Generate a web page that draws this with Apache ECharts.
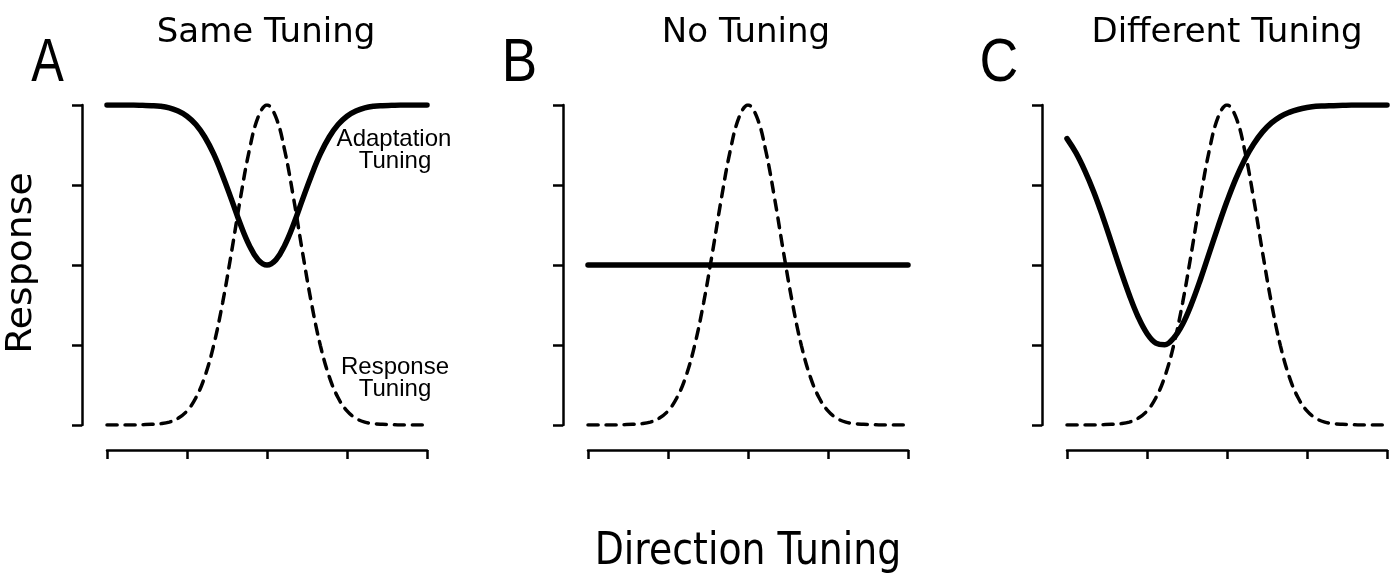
<!DOCTYPE html>
<html>
<head>
<meta charset="utf-8">
<script src="https://cdn.jsdelivr.net/npm/echarts@6/dist/echarts.min.js"></script>
<style>
html,body{margin:0;padding:0;background:#fff;}
#chart{width:1396px;height:582px;}
</style>
</head>
<body>
<div id="chart"></div>
<script>
// ---- data (direction in degrees, response normalised 0..1) ----
const directions = [-180,-170,-160,-150,-140,-130,-120,-110,-100,-90,-80,-70,-60,-50,-40,-30,-20,-10,0,
  10,20,30,40,50,60,70,80,90,100,110,120,130,140,150,160,170,180];

const responseTuning = [0,0,0,0,0.001,0.002,0.004,0.009,0.021,0.044,0.085,0.151,0.249,0.381,0.539,0.707,0.857,0.962,1,
  0.962,0.857,0.707,0.539,0.381,0.249,0.151,0.085,0.044,0.021,0.009,0.004,0.002,0.001,0,0,0,0];

const adaptSame = [1,1,1,1,0.999,0.998,0.996,0.991,0.981,0.965,0.939,0.900,0.847,0.780,0.705,0.628,0.562,0.516,0.5,
  0.516,0.562,0.628,0.705,0.780,0.847,0.900,0.939,0.965,0.981,0.991,0.996,0.998,0.999,1,1,1,1];

const adaptNone = [0.5,0.5,0.5,0.5,0.5,0.5,0.5,0.5,0.5,0.5,0.5,0.5,0.5,0.5,0.5,0.5,0.5,0.5,0.5,
  0.5,0.5,0.5,0.5,0.5,0.5,0.5,0.5,0.5,0.5,0.5,0.5,0.5,0.5,0.5,0.5,0.5,0.5];

const adaptDifferent = [0.895,0.851,0.795,0.729,0.653,0.570,0.486,0.407,0.338,0.286,0.256,0.251,0.272,0.315,0.378,0.454,0.537,0.620,0.699,
  0.770,0.830,0.878,0.916,0.944,0.964,0.977,0.986,0.992,0.996,0.997,0.998,0.999,1,1,1,1,1];

const panelTitles = ['Same Tuning', 'No Tuning', 'Different Tuning'];
const panelLetters = ['A', 'B', 'C'];
const xTicks = [-180, -90, 0, 90, 180];
const yTicks = [0, 0.25, 0.5, 0.75, 1];
const yLabel = 'Response';
const xLabel = 'Direction Tuning';
const adaptLabel = ['Adaptation', 'Tuning'];
const respLabel = ['Response', 'Tuning'];

// ---- layout ----
const gridLefts = [107, 588, 1067];
const gridW = 320, gridTop = 105, gridH = 320;

const chart = echarts.init(document.getElementById('chart'), null, {renderer: 'canvas'});

const grids = gridLefts.map(l => ({left: l, top: gridTop, width: gridW, height: gridH}));
const axisLineStyle = {color: '#000', width: 2.5};
const xAxes = gridLefts.map((l, i) => ({
  type: 'value', gridIndex: i, min: xTicks[0], max: xTicks[xTicks.length - 1], interval: 90,
  position: 'bottom', offset: 25,
  axisLine: {show: true, onZero: false, lineStyle: axisLineStyle},
  axisTick: {show: true, length: 9, lineStyle: {color: '#000', width: 2.5}},
  axisLabel: {show: false}, splitLine: {show: false}
}));
const yAxes = gridLefts.map((l, i) => ({
  type: 'value', gridIndex: i, min: yTicks[0], max: yTicks[yTicks.length - 1], interval: 0.25,
  position: 'left', offset: 25,
  axisLine: {show: true, onZero: false, lineStyle: axisLineStyle},
  axisTick: {show: true, length: 10, lineStyle: {color: '#000', width: 2.5}},
  axisLabel: {show: false}, splitLine: {show: false}
}));

const pair = arr => directions.map((d, i) => [d, arr[i]]);
const adaptSets = [adaptSame, adaptNone, adaptDifferent];
const series = [];
for (let i = 0; i < 3; i++) {
  series.push({
    type: 'line', xAxisIndex: i, yAxisIndex: i, data: pair(responseTuning),
    showSymbol: false, smooth: 0.4, silent: true, z: 2,
    lineStyle: {color: '#000', width: 3.5, type: [10, 8], cap: 'round'}
  });
  series.push({
    type: 'line', xAxisIndex: i, yAxisIndex: i, data: pair(adaptSets[i]),
    showSymbol: false, smooth: 0.4, silent: true, z: 3,
    lineStyle: {color: '#000', width: 5.5, cap: 'round', join: 'round'}
  });
}

function txt(text, x, y, font, opts) {
  opts = opts || {};
  return {
    type: 'text', x: x, y: y, rotation: opts.rotation || 0,
    scaleX: opts.scaleX || 1, scaleY: 1, silent: true,
    style: {
      text: text, font: font, fill: '#000',
      textAlign: 'center', textVerticalAlign: 'middle',
      align: 'center', verticalAlign: 'middle'
    }
  };
}

const titleCenters = [266, 746, 1227];
const letterCenters = [47.5, 519.5, 999];
const letterScales = [0.8, 0.87, 0.88];
const graphics = [];
for (let i = 0; i < 3; i++) {
  graphics.push(txt(panelTitles[i], titleCenters[i], 33, '34px "DejaVu Sans"'));
  graphics.push(txt(panelLetters[i], letterCenters[i], 64, '61px "Liberation Sans"', {scaleX: letterScales[i]}));
}
graphics.push(txt(adaptLabel[0], 394, 139, '24px "Liberation Sans"'));
graphics.push(txt(adaptLabel[1], 395, 161, '24px "Liberation Sans"'));
graphics.push(txt(respLabel[0], 395, 367, '24px "Liberation Sans"'));
graphics.push(txt(respLabel[1], 395, 389, '24px "Liberation Sans"'));
graphics.push(txt(yLabel, 22, 263, '36px "DejaVu Sans"', {rotation: Math.PI / 2, scaleX: 1.05}));
graphics.push(txt(xLabel, 748, 552, '45px "DejaVu Sans"', {scaleX: 0.84}));

chart.setOption({
  animation: false,
  backgroundColor: '#fff',
  grid: grids,
  xAxis: xAxes,
  yAxis: yAxes,
  series: series,
  graphic: graphics
});
</script>
</body>
</html>
